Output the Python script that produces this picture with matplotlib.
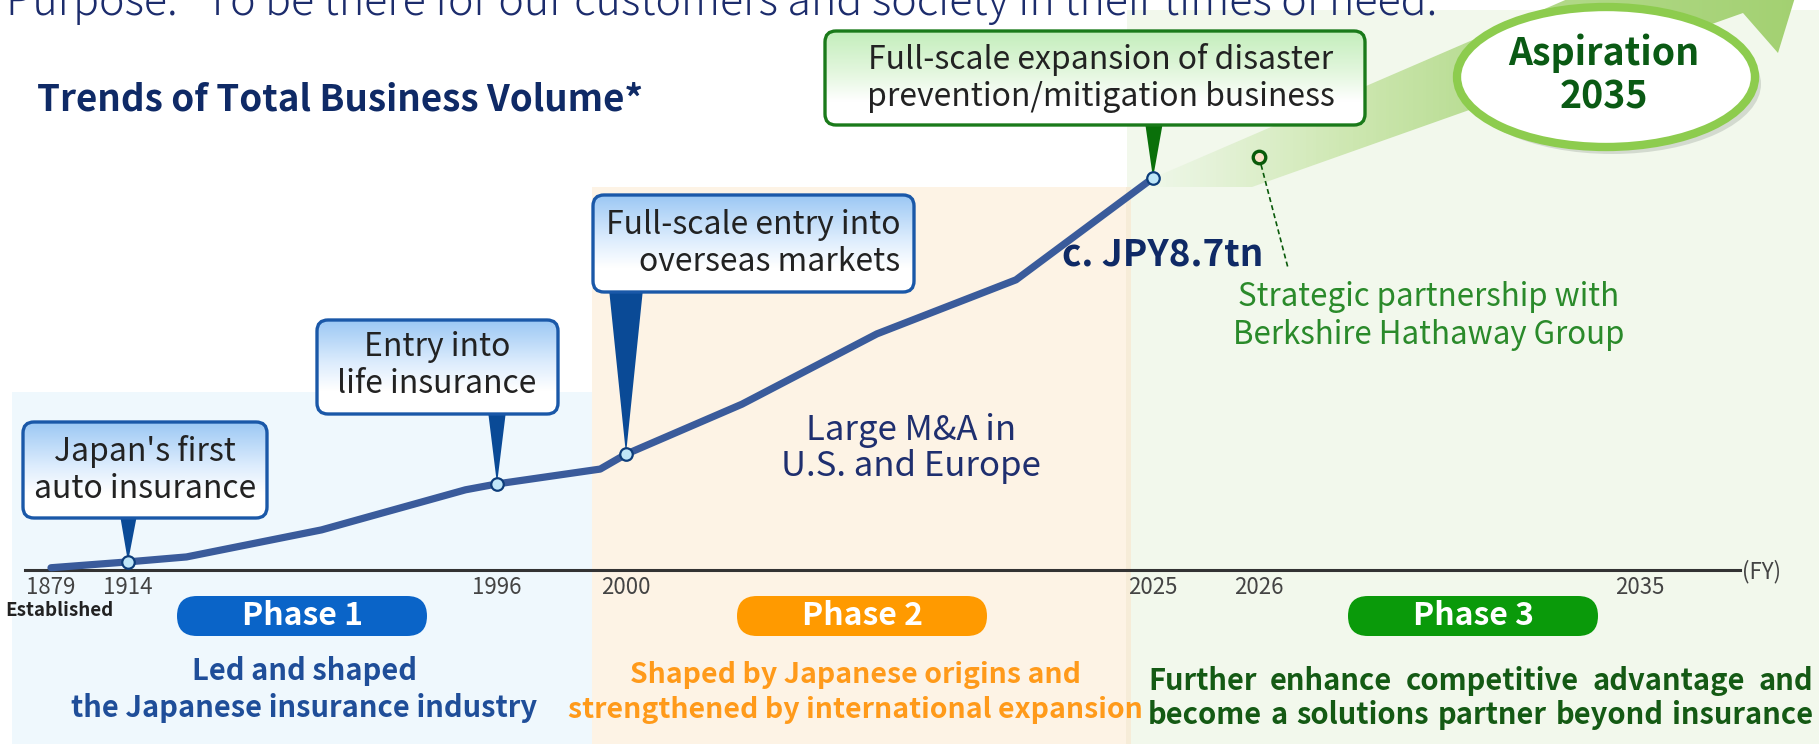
import numpy as np
import matplotlib
matplotlib.use("Agg")
import matplotlib.pyplot as plt
from matplotlib.patches import FancyBboxPatch, Polygon, Ellipse, Rectangle
from matplotlib.colors import LinearSegmentedColormap

plt.rcParams['font.family'] = ['Noto Sans CJK JP', 'DejaVu Sans']

# ---- data ----
years = [1879, 1914, 1927, 1957, 1989, 1996, 1999.2, 2000, 2005.5, 2011.9, 2018.5, 2025]
volume_tn = [0.05, 0.18, 0.29, 0.89, 1.78, 1.91, 2.24, 2.57, 3.68, 5.24, 6.44, 8.7]
tick_years = [1879, 1914, 1996, 2000, 2025, 2026, 2035]
milestone_years = [1914, 1996, 2000, 2025]
milestone_labels = [
    ["Japan's first", "auto insurance"],
    ["Entry into", "life insurance"],
    ["Full-scale entry into", "overseas markets"],
    ["Full-scale expansion of disaster", "prevention/mitigation business"],
]
partner_year = 2026
partner_level = 9.17
partner_label = ["Strategic partnership with", "Berkshire Hathaway Group"]
latest_label = "c. JPY8.7tn"
mna_label = ["Large M&A in", "U.S. and Europe"]
phase_names = ["Phase 1", "Phase 2", "Phase 3"]
phase_desc = [
    ["Led and shaped", "the Japanese insurance industry"],
    ["Shaped by Japanese origins and", "strengthened by international expansion"],
    ["Further enhance competitive advantage and", "become a solutions partner beyond insurance"],
]

# ---- layout ----
W, H = 1819, 744
AXIS_Y = 570
PX_PER_TN = (AXIS_Y - 178) / 8.7
TL_YEARS = [1860, 1879, 1914, 1996, 2000, 2025, 2026, 2035, 2045]
TL_PX = [0, 51, 128, 497, 626, 1153, 1259, 1640, 1819]


def fwd(x):
    return np.interp(x, TL_YEARS, TL_PX)


def inv(p):
    return np.interp(p, TL_PX, TL_YEARS)


fig = plt.figure(figsize=(W / 100, H / 100), dpi=100)
ax = fig.add_axes([0, 0, 1, 1])
ax.axis('off')
dax = fig.add_axes([0, 0, 1, 1], zorder=2)
dax.patch.set_visible(False)
dax.set_xscale('function', functions=(fwd, inv))
dax.set_xlim(1860, 2045)
dax.set_ylim(-(H - AXIS_Y) / PX_PER_TN, AXIS_Y / PX_PER_TN)
ax.set_xlim(0, W)
ax.set_ylim(H, 0)


def to_px(x, y):
    return ax.transData.inverted().transform(dax.transData.transform((x, y)))


def lines_text(lines, x, y0, dy, **kw):
    for i, s in enumerate(lines):
        ax.text(x, y0 + i * dy, s, va='center', **kw)


# phase backgrounds
ax.add_patch(Rectangle((12, 392), 580, H - 392, fc='#eff8fd', ec='none', zorder=0))
ax.add_patch(Rectangle((592, 187), 537, H - 187, fc='#fdf3e5', ec='none', zorder=0))
ax.add_patch(Rectangle((1127, 10), W - 1127, H - 10, fc='#f2f8ec', ec='none', zorder=0))
ax.add_patch(Rectangle((1126, 187), 5, H - 187, fc='#f6ecd8', ec='none', zorder=0.5))

# green growth arrow
band = Polygon([(1153, 178), (1600, -15), (1700, -60), (1808, -45), (1778, 53),
                (1743, 13), (1252, 187), (1153, 187)], closed=True, fc='none', ec='none')
ax.add_patch(band)
band_cmap = LinearSegmentedColormap.from_list(
    'band', [(0, '#eef7e8'), (0.3, '#cde7b0'), (0.52, '#b5db8e'), (1, '#a2d070')])
im = ax.imshow(np.linspace(0, 1, 200).reshape(1, -1), cmap=band_cmap,
               extent=(1153, 1819, 190, -60), aspect='auto', zorder=1)
im.set_clip_path(band)

# ellipse "Aspiration 2035"
ax.add_patch(Ellipse((1612, 84), 298, 140, fc='#9aa39a', ec='none', alpha=0.35, zorder=5))
ax.add_patch(Ellipse((1606, 77), 298, 140, fc='white', ec='#8dcc4e', lw=6, zorder=6))
ax.text(1604, 53, 'Aspiration', ha='center', va='center', fontsize=27,
        fontweight='bold', color='#0a5a14', zorder=7)
ax.text(1604, 97, '2035', ha='center', va='center', fontsize=27,
        fontweight='bold', color='#0a5a14', zorder=7)


# callouts
def callout(box, base, tip, lines, tx, ty, ha, edge, ptr, top_col, mid_col):
    x0, y0, x1, y1 = box
    ax.add_patch(Polygon([(base[0], y1 - 3), (base[1], y1 - 3), tip], closed=True,
                         fc=ptr, ec='none', zorder=3))
    shape = FancyBboxPatch((x0, y0), x1 - x0, y1 - y0,
                           boxstyle='round,pad=0,rounding_size=11', fc='white', ec='none', zorder=4)
    ax.add_patch(shape)
    cmap = LinearSegmentedColormap.from_list('c', [(0, top_col), (0.45, mid_col), (0.75, 'white'), (1, 'white')])
    g = ax.imshow(np.linspace(0, 1, 100).reshape(-1, 1), cmap=cmap,
                  extent=(x0, x1, y1, y0), aspect='auto', zorder=4.1)
    g.set_clip_path(shape)
    ax.add_patch(FancyBboxPatch((x0, y0), x1 - x0, y1 - y0,
                                boxstyle='round,pad=0,rounding_size=11', fc='none',
                                ec=edge, lw=2.4, zorder=4.2))
    lines_text(lines, tx, ty, 37, ha=ha, fontsize=23, color='#222222', zorder=5)


tips = [to_px(y, np.interp(y, years, volume_tn)) for y in milestone_years]
blue = ('#1a58a8', '#0a4a96', '#9cc8f4', '#dcecfd')
callout((23, 422, 267, 518), (120, 137), tips[0], milestone_labels[0], 145, 452, 'center', *blue)
callout((317, 320, 558, 414), (488, 506), tips[1], milestone_labels[1], 437, 347, 'center', *blue)
callout((593, 195, 914, 292), (609, 643), tips[2], milestone_labels[2], 900, 225, 'right', *blue)
callout((825, 31, 1365, 125), (1145, 1163), tips[3], milestone_labels[3], 1101, 60, 'center',
        '#1a7a1a', '#0a700a', '#c4eebc', '#e4f7df')

# data line and milestone markers
dax.plot(years, volume_tn, color='#3a5b9b', lw=5.2, solid_capstyle='round', zorder=3)
dax.plot(milestone_years, np.interp(milestone_years, years, volume_tn), 'o', ms=9,
         mfc='#bfe6f8', mec='#0d3d7a', mew=1.6, zorder=4)

# partnership marker
px, py = to_px(partner_year, partner_level)
ax.plot([px, 1288], [py, 268], color='#0a5a0a', lw=1.2, ls=(0, (3, 2)), zorder=3)
dax.plot([partner_year], [partner_level], 'o', ms=9, mfc='#fbe0c8', mec='#0a5a0a', mew=2.4, zorder=4)
lines_text(partner_label, 1429, 297, 38, ha='center', fontsize=22.5, color='#2a8a2a', zorder=3)

# axis
for s in ['top', 'right', 'left']:
    dax.spines[s].set_visible(False)
dax.spines['bottom'].set_position(('data', 0))
dax.spines['bottom'].set_bounds(inv(25), inv(1740))
dax.spines['bottom'].set_linewidth(2.2)
dax.spines['bottom'].set_color('#333333')
dax.set_yticks([])
dax.set_xticks(tick_years)
dax.set_xticklabels([str(y) for y in tick_years])
dax.tick_params(axis='x', length=0, pad=4, labelsize=16, labelcolor='#444444')
ax.text(1742, 572, '(FY)', ha='left', va='center', fontsize=16, color='#444444')
ax.text(59, 611, 'Established', ha='center', va='center', fontsize=13.5,
        fontweight='bold', color='#222222')

# titles and labels
ax.text(6, 15, 'Purpose: \u201cTo be there for our customers and society in their times of need.\u201d',
        ha='left', va='baseline', fontsize=31, fontweight='light', color='#1c2c6c')
ax.text(37, 100, 'Trends of Total Business Volume*', ha='left', va='center', fontsize=26.5,
        fontweight='bold', color='#0f2a66')
ax.text(1163, 255, latest_label, ha='center', va='center', fontsize=26.5,
        fontweight='bold', color='#0f2a66', zorder=3)
lines_text(mna_label, 911, 430, 37, ha='center', fontsize=25, color='#1f2f6f')

# phases
pill_x = [302, 862, 1473]
pill_col = ['#0a64c8', '#ff9a00', '#0a9a0a']
for name, cx, c in zip(phase_names, pill_x, pill_col):
    ax.add_patch(FancyBboxPatch((cx - 125, 596), 250, 40,
                                boxstyle='round,pad=0,rounding_size=20', fc=c, ec='none', zorder=3))
    ax.text(cx, 616, name, ha='center', va='center', fontsize=23, fontweight='bold',
            color='white', zorder=4)

lines_text(phase_desc[0], 304, 671, 37, ha='center', fontsize=21, fontweight='bold', color='#1f4e99')
lines_text(phase_desc[1], 855, 675, 35, ha='center', fontsize=20.5, fontweight='bold', color='#ff9a1a')

renderer = fig.canvas.get_renderer()
for line, y in zip(phase_desc[2], [681, 715]):
    words = line.split()
    ts = [ax.text(0, y, w, ha='left', va='center', fontsize=21, fontweight='bold',
                  color='#145a14') for w in words]
    widths = [t.get_window_extent(renderer).width for t in ts]
    gap = (1813 - 1148 - sum(widths)) / (len(words) - 1)
    x = 1148
    for t, w in zip(ts, widths):
        t.set_x(x)
        x += w + gap

ax.set_xlim(0, W)
ax.set_ylim(H, 0)
fig.savefig('out.png', dpi=100)
